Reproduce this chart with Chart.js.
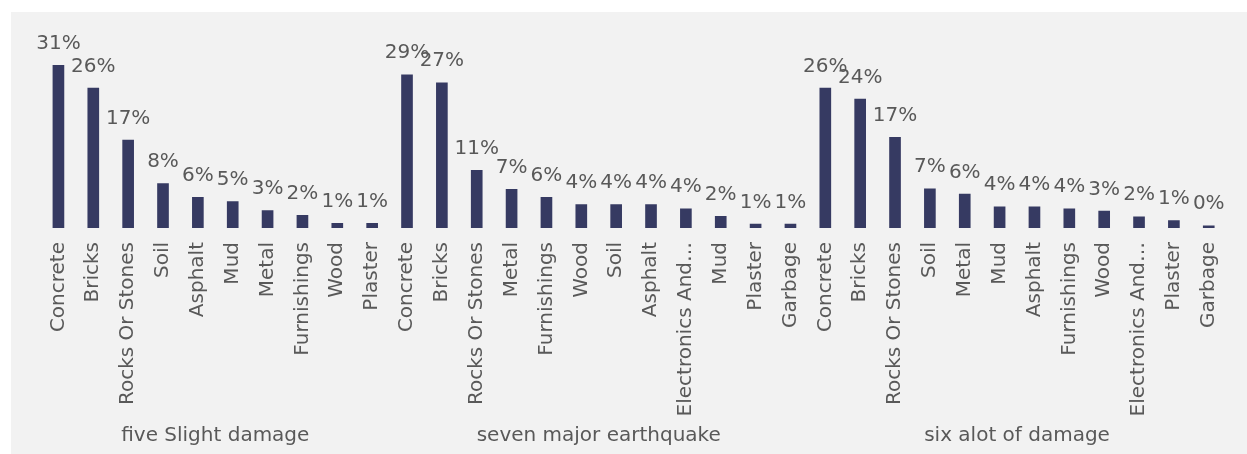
<!DOCTYPE html>
<html>
<head>
<meta charset="utf-8">
<script src="https://cdn.jsdelivr.net/npm/chart.js@4/dist/chart.umd.min.js"></script>
<style>
  html, body { margin: 0; padding: 0; background: #ffffff; }
  #wrap { position: relative; width: 1247px; height: 454px; }
</style>
</head>
<body>
<div id="wrap"><canvas id="c" width="1247" height="454"></canvas></div>
<script>
// ---- data ----
const group1Name = 'five Slight damage';
const group1Categories = ['Concrete', 'Bricks', 'Rocks Or Stones', 'Soil', 'Asphalt', 'Mud', 'Metal', 'Furnishings', 'Wood', 'Plaster'];
const group1Values = [30.7, 26.4, 16.6, 8.4, 5.8, 5.0, 3.3, 2.4, 0.9, 0.9];

const group2Name = 'seven major earthquake';
const group2Categories = ['Concrete', 'Bricks', 'Rocks Or Stones', 'Metal', 'Furnishings', 'Wood', 'Soil', 'Asphalt', 'Electronics And\u2026', 'Mud', 'Plaster', 'Garbage'];
const group2Values = [28.9, 27.4, 10.9, 7.3, 5.8, 4.4, 4.4, 4.4, 3.6, 2.2, 0.75, 0.75];

const group3Name = 'six alot of damage';
const group3Categories = ['Concrete', 'Bricks', 'Rocks Or Stones', 'Soil', 'Metal', 'Mud', 'Asphalt', 'Furnishings', 'Wood', 'Electronics And\u2026', 'Plaster', 'Garbage'];
const group3Values = [26.4, 24.3, 17.1, 7.4, 6.4, 4.0, 4.0, 3.6, 3.2, 2.1, 1.4, 0.4];

// ---- derived structures for the library ----
const groupNames = [group1Name, group2Name, group3Name];
const groupSizes = [group1Categories.length, group2Categories.length, group3Categories.length];
const labels = [].concat(group1Categories, group2Categories, group3Categories);
const values = [].concat(group1Values, group2Values, group3Values);
const groupCenters = [];
let acc = 0;
groupSizes.forEach(n => { groupCenters.push(acc + n / 2); acc += n; });
const totalCount = acc;

const FONT = "'DejaVu Sans', sans-serif";
const TEXT = '#595959';

const panelPlugin = {
  id: 'panel',
  beforeDraw(chart) {
    const ctx = chart.ctx;
    ctx.save();
    ctx.fillStyle = '#ffffff';
    ctx.fillRect(0, 0, chart.width, chart.height);
    ctx.fillStyle = '#f2f2f2';
    ctx.fillRect(11, 12, chart.width - 11, chart.height - 12);
    ctx.restore();
  }
};

const valueLabelPlugin = {
  id: 'valueLabels',
  afterDatasetsDraw(chart) {
    const ctx = chart.ctx;
    const meta = chart.getDatasetMeta(0);
    ctx.save();
    ctx.font = '20px ' + FONT;
    ctx.fillStyle = TEXT;
    ctx.textAlign = 'center';
    ctx.textBaseline = 'alphabetic';
    meta.data.forEach((el, i) => {
      const v = chart.data.datasets[0].data[i];
      ctx.fillText(Math.round(v) + '%', el.x, el.y - 16.5);
    });
    ctx.restore();
  }
};

new Chart(document.getElementById('c'), {
  type: 'bar',
  data: {
    labels: labels,
    datasets: [{
      data: values,
      backgroundColor: '#363a62',
      borderWidth: 0,
      barThickness: 11,
      categoryPercentage: 1,
      barPercentage: 0.3
    }]
  },
  options: {
    responsive: false,
    animation: false,
    events: [],
    layout: { padding: { left: 41, right: 17, top: 43, bottom: 8 } },
    plugins: { legend: { display: false }, tooltip: { enabled: false } },
    scales: {
      y: { display: false, min: 0, max: 34.9 },
      x: {
        type: 'category',
        position: 'bottom',
        offset: true,
        grid: { display: false, drawTicks: false },
        border: { display: false },
        ticks: {
          autoSkip: false,
          minRotation: 90,
          maxRotation: 90,
          padding: 14,
          color: TEXT,
          font: { family: FONT, size: 20 }
        },
        afterFit(scale) { scale.height = 190; }
      },
      x2: {
        type: 'linear',
        position: 'bottom',
        offset: false,
        min: 0,
        max: totalCount,
        grid: { display: false, drawTicks: false, offset: false },
        border: { display: false },
        afterBuildTicks(scale) { scale.ticks = groupCenters.map(v => ({ value: v })); },
        ticks: {
          autoSkip: false,
          maxRotation: 0,
          minRotation: 0,
          padding: 6,
          color: TEXT,
          font: { family: FONT, size: 20 },
          callback: (v) => groupNames[groupCenters.indexOf(v)]
        },
        afterFit(scale) { scale.height = 28; }
      }
    }
  },
  plugins: [panelPlugin, valueLabelPlugin]
});
</script>
</body>
</html>
